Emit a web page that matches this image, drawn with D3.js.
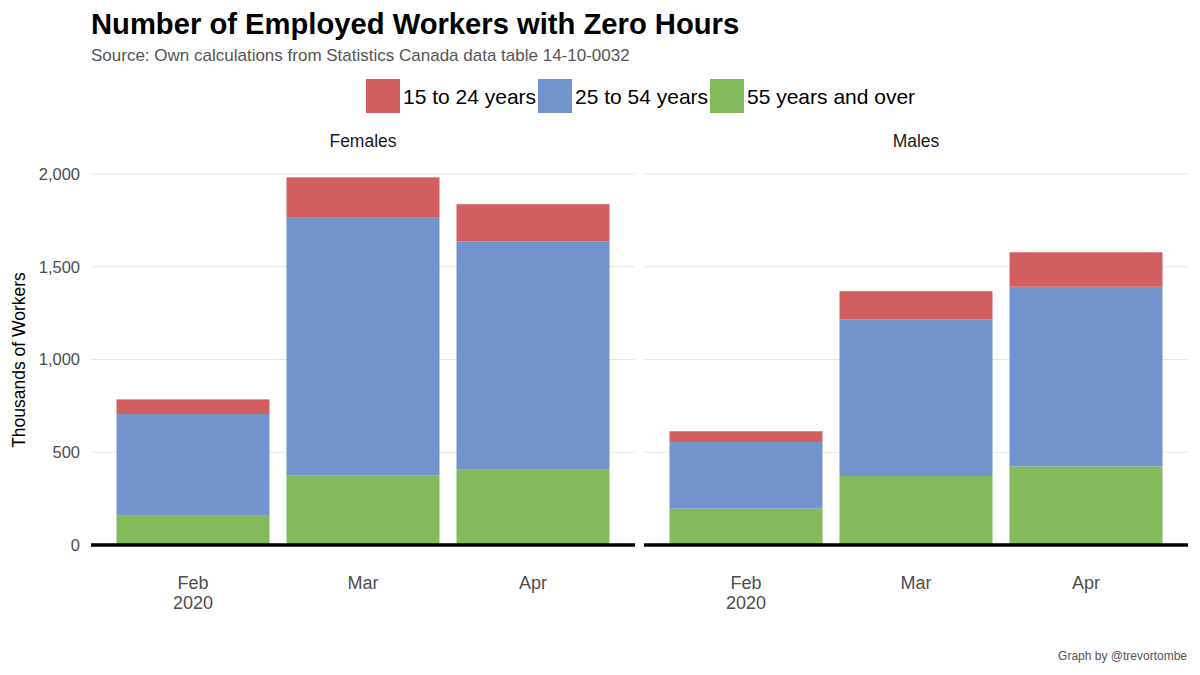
<!DOCTYPE html>
<html><head><meta charset="utf-8">
<script src="https://cdn.jsdelivr.net/npm/d3@7"></script>
<style>body{margin:0;background:#fff}svg{font-family:"Liberation Sans",Arial,sans-serif}</style>
</head><body><svg id="c" width="1200" height="675"></svg>
<script>
const months = ["Feb", "Mar", "Apr"];
const monthLabels = [["Feb", "2020"], ["Mar"], ["Apr"]];
const panels = ["Females", "Males"];
const ageGroups = ["15 to 24 years", "25 to 54 years", "55 years and over"];
const colors = ["#D35E60", "#7293CB", "#84BA5B"];
// thousands of workers, per month Feb, Mar, Apr
const females15to24 = [79, 218, 200];
const females25to54 = [544, 1390, 1231];
const females55plus = [162, 374, 406];
const males15to24 = [58, 151, 186];
const males25to54 = [359, 845, 968];
const males55plus = [196, 372, 424];
const yTicks = [0, 500, 1000, 1500, 2000];

const dataByPanel = {
  Females: [females15to24, females25to54, females55plus],
  Males: [males15to24, males25to54, males55plus]
};

const svg = d3.select("#c");
const y = d3.scaleLinear().domain([0, 2000]).range([545, 174]);
const panelX = {Females: [91, 635], Males: [644, 1188]};

svg.append("text").attr("x", 91).attr("y", 34).attr("font-size", 29.2).attr("font-weight", "bold")
  .attr("fill", "#000").text("Number of Employed Workers with Zero Hours");
svg.append("text").attr("x", 91).attr("y", 61).attr("font-size", 17).attr("fill", "#555")
  .text("Source: Own calculations from Statistics Canada data table 14-10-0032");

// legend
const legendX = [366, 538, 710];
ageGroups.forEach((g, i) => {
  svg.append("rect").attr("x", legendX[i]).attr("y", 79).attr("width", 34).attr("height", 34).attr("fill", colors[i]);
  svg.append("text").attr("x", legendX[i] + 37).attr("y", 104).attr("font-size", 21).attr("fill", "#000").text(g);
});

// y axis labels
yTicks.forEach(t => {
  svg.append("text").attr("x", 80).attr("y", y(t)).attr("dy", "0.35em").attr("text-anchor", "end")
    .attr("font-size", 16.5).attr("fill", "#4d4d4d").text(d3.format(",")(t));
});
svg.append("text").attr("transform", "translate(25,360) rotate(-90)").attr("text-anchor", "middle")
  .attr("font-size", 17.5).attr("fill", "#000").text("Thousands of Workers");

panels.forEach(p => {
  const [x0, x1] = panelX[p];
  const x = d3.scalePoint().domain(months).range([x0, x1]).padding(0.6);
  const bw = x.step() * 0.9;
  const g = svg.append("g");
  // gridlines
  g.selectAll("line.grid").data(yTicks).join("line")
    .attr("x1", x0).attr("x2", x1).attr("y1", d => y(d)).attr("y2", d => y(d))
    .attr("stroke", "#e6e6e6").attr("stroke-width", 1.2);
  // strip label
  g.append("text").attr("x", (x0 + x1) / 2).attr("y", 147).attr("text-anchor", "middle")
    .attr("font-size", 17.5).attr("fill", "#1a1a1a").text(p);
  // stacked bars
  const series = dataByPanel[p];
  const rows = months.map((m, i) => ({month: m, a: series[0][i], b: series[1][i], c: series[2][i]}));
  const stack = d3.stack().keys(["c", "b", "a"])(rows);
  const colorFor = {a: colors[0], b: colors[1], c: colors[2]};
  stack.forEach(layer => {
    g.selectAll(null).data(layer).join("rect")
      .attr("x", d => x(d.data.month) - bw / 2).attr("width", bw)
      .attr("y", d => y(d[1])).attr("height", d => y(d[0]) - y(d[1]))
      .attr("fill", colorFor[layer.key]);
  });
  // zero line
  g.append("line").attr("x1", x0).attr("x2", x1).attr("y1", y(0)).attr("y2", y(0))
    .attr("stroke", "#000").attr("stroke-width", 3.5);
  // x labels
  months.forEach((m, i) => {
    const t = g.append("text").attr("x", x(m)).attr("y", 589)
      .attr("text-anchor", "middle").attr("font-size", 18).attr("fill", "#4d4d4d");
    monthLabels[i].forEach((s, j) => t.append("tspan").attr("x", x(m)).attr("dy", j ? 20 : 0).text(s));
  });
});

svg.append("text").attr("x", 1187).attr("y", 660).attr("text-anchor", "end").attr("font-size", 12)
  .attr("fill", "#555").text("Graph by @trevortombe");
</script></body></html>
